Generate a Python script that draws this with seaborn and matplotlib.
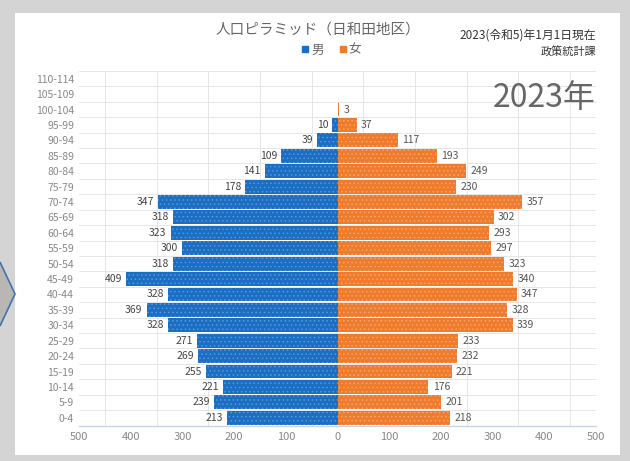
import pandas as pd
import numpy as np
import seaborn as sns
from matplotlib import pyplot as plt
from matplotlib.patches import Rectangle, Polygon
from matplotlib.lines import Line2D

# 年齢階級（上から下へ）
ages = ["110-114", "105-109", "100-104", "95-99", "90-94", "85-89", "80-84",
        "75-79", "70-74", "65-69", "60-64", "55-59", "50-54", "45-49",
        "40-44", "35-39", "30-34", "25-29", "20-24", "15-19", "10-14",
        "5-9", "0-4"]
male = [0, 0, 0, 10, 39, 109, 141, 178, 347, 318, 323, 300, 318, 409,
        328, 369, 328, 271, 269, 255, 221, 239, 213]
female = [0, 0, 3, 37, 117, 193, 249, 230, 357, 302, 293, 297, 323, 340,
          347, 328, 339, 233, 232, 221, 176, 201, 218]
xticks = [-500, -400, -300, -200, -100, 0, 100, 200, 300, 400, 500]

blue = "#1b6ec2"
orange = "#ef7c2c"

sns.set_style("white")
plt.rcParams['font.family'] = ['Noto Sans CJK JP', 'DejaVu Sans']
plt.rcParams['hatch.linewidth'] = 0.6

df = pd.DataFrame({
    "age": ages + ages,
    "value": [-m for m in male] + female,
    "sex": ["男"] * len(ages) + ["女"] * len(ages),
})

fig = plt.figure(figsize=(6.3, 4.61), dpi=100, facecolor="#d4d4d4")
fig.patches.append(Rectangle((15 / 630, 6 / 461), 605 / 630, 442 / 461,
                             transform=fig.transFigure, facecolor="white",
                             edgecolor="none", zorder=-10))
fig.patches.append(Polygon([(0, 1 - 262 / 461), (15 / 630, 1 - 294 / 461), (0, 1 - 326 / 461)],
                           closed=False, transform=fig.transFigure,
                           facecolor="#b9b6b4", edgecolor="#3f74b0", linewidth=1.2, zorder=-5))

ax = fig.add_axes([79 / 630, 1 - 425.5 / 461, 517 / 630, 354.5 / 461])
sns.barplot(data=df, x="value", y="age", hue="sex", order=ages,
            palette={"男": blue, "女": orange}, dodge=False, width=0.9,
            saturation=1, legend=False, ax=ax)

# 網点風のハッチ
for cont, light in zip(ax.containers, ["#5598dc", "#f6a56c"]):
    for p in cont:
        p.set_hatch("....")
        p.set_edgecolor(light)
        p.set_linewidth(0)

ax.bar_label(ax.containers[0], labels=[str(v) if v else "" for v in male],
             padding=3, fontsize=7.5, color="#444444")
ax.bar_label(ax.containers[1], labels=[str(v) if v else "" for v in female],
             padding=3, fontsize=7.5, color="#555555")

ax.set_xlim(-500, 500)
ax.set_xticks(xticks)
ax.set_xticklabels([str(abs(v)) for v in xticks])
ax.set_ylim(len(ages) - 0.5, -0.5)
ax.set_yticks(np.arange(len(ages) + 1) - 0.5, minor=True)
ax.set_xticks(np.arange(-500, 501, 50), minor=True)
ax.grid(True, which="minor", color="#e6e6e6", linewidth=0.7)
ax.grid(False, which="major")
ax.set_axisbelow(True)
ax.tick_params(axis="both", which="both", length=0, labelsize=7.5, labelcolor="#888888")
ax.tick_params(axis="x", pad=5, labelsize=8)
ax.set_xlabel("")
ax.set_ylabel("")
for s in ["top", "right", "left"]:
    ax.spines[s].set_visible(False)
ax.spines["bottom"].set_color("#c9d5e3")
ax.spines["bottom"].set_linewidth(1)

fig.text(318 / 630, 1 - 30 / 461, "人口ピラミッド（日和田地区）", ha="center", va="center",
         fontsize=10.5, color="#666666")
handles = [Line2D([], [], marker="s", linestyle="none", markersize=4, color=blue),
           Line2D([], [], marker="s", linestyle="none", markersize=4, color=orange)]
fig.legend(handles, ["男", "女"], loc="center", bbox_to_anchor=(330 / 630, 1 - 50 / 461),
           ncol=2, frameon=False, fontsize=9, handletextpad=0.0, columnspacing=1.0,
           handlelength=1.0, labelcolor="#666666")
fig.text(596 / 630, 1 - 35 / 461, "2023(令和5)年1月1日現在", ha="right", va="center",
         fontsize=8.5, color="#333333")
fig.text(596 / 630, 1 - 52 / 461, "政策統計課", ha="right", va="center",
         fontsize=8, color="#333333")
ax.text(1.0, 1 - 27 / 354.5, "2023年", transform=ax.transAxes, ha="right", va="center",
        fontsize=23, color="#666666")

plt.savefig("out.png", dpi=100, facecolor=fig.get_facecolor())
